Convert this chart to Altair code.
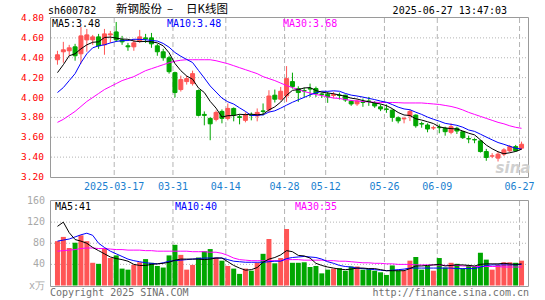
import altair as alt
import pandas as pd

# ---------------- data ----------------
dates = [
    "2025-03-03", "2025-03-04", "2025-03-05", "2025-03-06", "2025-03-07", "2025-03-10", "2025-03-11",
    "2025-03-12", "2025-03-13", "2025-03-14", "2025-03-17", "2025-03-18", "2025-03-19", "2025-03-20",
    "2025-03-21", "2025-03-24", "2025-03-25", "2025-03-26", "2025-03-27", "2025-03-28", "2025-03-31",
    "2025-04-01", "2025-04-02", "2025-04-03", "2025-04-07", "2025-04-08", "2025-04-09", "2025-04-10",
    "2025-04-11", "2025-04-14", "2025-04-15", "2025-04-16", "2025-04-17", "2025-04-18", "2025-04-21",
    "2025-04-22", "2025-04-23", "2025-04-24", "2025-04-25", "2025-04-28", "2025-04-29", "2025-04-30",
    "2025-05-06", "2025-05-07", "2025-05-08", "2025-05-09", "2025-05-12", "2025-05-13", "2025-05-14",
    "2025-05-15", "2025-05-16", "2025-05-19", "2025-05-20", "2025-05-21", "2025-05-22", "2025-05-23",
    "2025-05-26", "2025-05-27", "2025-05-28", "2025-05-29", "2025-05-30", "2025-06-03", "2025-06-04",
    "2025-06-05", "2025-06-06", "2025-06-09", "2025-06-10", "2025-06-11", "2025-06-12", "2025-06-13",
    "2025-06-16", "2025-06-17", "2025-06-18", "2025-06-19", "2025-06-20", "2025-06-23", "2025-06-24",
    "2025-06-25", "2025-06-26", "2025-06-27",
]

opens = [4.38, 4.46, 4.47, 4.51, 4.44, 4.58, 4.58, 4.61, 4.53, 4.63,
         4.66, 4.58, 4.52, 4.51, 4.57, 4.60, 4.60, 4.52, 4.46, 4.40,
         4.25, 4.08, 4.16, 4.14, 4.07, 3.83, 3.79, 3.78, 3.86, 3.79,
         3.89, 3.806, 3.77, 3.826, 3.815, 3.865, 3.875, 4.023, 3.983, 4.016,
         4.16, 4.09, 4.07, 4.09, 4.09, 4.036, 4.033, 4.02, 4.025, 4.023,
         3.963, 3.936, 3.953, 3.965, 3.94, 3.906, 3.885, 3.873, 3.796, 3.785,
         3.816, 3.823, 3.737, 3.723, 3.693, 3.70, 3.69, 3.65, 3.69, 3.656,
         3.586, 3.577, 3.563, 3.456, 3.41, 3.39, 3.43, 3.463, 3.506, 3.49]

highs = [4.47, 4.56, 4.53, 4.54, 4.71, 4.69, 4.63, 4.64, 4.69, 4.67,
         4.76, 4.62, 4.55, 4.59, 4.68, 4.64, 4.65, 4.54, 4.49, 4.42,
         4.26, 4.22, 4.22, 4.27, 4.08, 3.86, 3.80, 3.87, 3.88, 3.94,
         3.90, 3.83, 3.85, 3.85, 3.89, 3.94, 4.073, 4.08, 4.106, 4.316,
         4.25, 4.113, 4.10, 4.14, 4.11, 4.05, 4.056, 4.056, 4.05, 4.03,
         3.973, 3.98, 3.99, 4.006, 3.963, 3.93, 3.93, 3.88, 3.81, 3.806,
         3.88, 3.83, 3.756, 3.74, 3.716, 3.73, 3.706, 3.74, 3.706, 3.663,
         3.616, 3.59, 3.573, 3.483, 3.44, 3.456, 3.49, 3.523, 3.523, 3.556]

lows = [4.33, 4.35, 4.42, 4.37, 4.34, 4.46, 4.53, 4.49, 4.43, 4.55,
        4.56, 4.53, 4.47, 4.47, 4.55, 4.55, 4.50, 4.42, 4.37, 4.24,
        4.00, 4.06, 4.13, 4.12, 3.81, 3.72, 3.57, 3.76, 3.74, 3.77,
        3.76, 3.73, 3.75, 3.77, 3.76, 3.82, 3.85, 3.95, 3.97, 3.956,
        4.09, 3.956, 4.00, 4.006, 4.006, 3.996, 3.946, 3.99, 3.98, 3.956,
        3.916, 3.916, 3.906, 3.916, 3.896, 3.863, 3.846, 3.756, 3.74, 3.74,
        3.763, 3.696, 3.696, 3.65, 3.673, 3.64, 3.616, 3.63, 3.633, 3.583,
        3.54, 3.54, 3.446, 3.363, 3.39, 3.356, 3.41, 3.45, 3.456, 3.473]

closes = [4.43, 4.48, 4.50, 4.42, 4.62, 4.63, 4.61, 4.52, 4.64, 4.64,
          4.58, 4.56, 4.51, 4.55, 4.61, 4.59, 4.54, 4.46, 4.40, 4.26,
          4.05, 4.18, 4.19, 4.24, 3.82, 3.82, 3.735, 3.85, 3.79, 3.89,
          3.823, 3.80, 3.83, 3.82, 3.85, 3.86, 4.015, 3.983, 4.063, 4.19,
          4.11, 4.05, 4.065, 4.085, 4.04, 4.03, 4.005, 4.03, 4.02, 3.975,
          3.935, 3.965, 3.95, 3.96, 3.915, 3.885, 3.88, 3.80, 3.765, 3.79,
          3.86, 3.716, 3.733, 3.683, 3.696, 3.696, 3.656, 3.706, 3.663, 3.596,
          3.583, 3.573, 3.456, 3.396, 3.413, 3.43, 3.473, 3.506, 3.463, 3.53]

ma5 = [4.25, 4.33, 4.42, 4.44, 4.49, 4.53, 4.556, 4.56, 4.604, 4.608,
       4.598, 4.588, 4.586, 4.568, 4.562, 4.564, 4.56, 4.55, 4.52, 4.45,
       4.342, 4.27, 4.216, 4.184, 4.096, 4.05, 3.961, 3.893, 3.803, 3.817,
       3.818, 3.831, 3.827, 3.833, 3.825, 3.832, 3.875, 3.906, 3.954, 4.022,
       4.072, 4.079, 4.096, 4.10, 4.07, 4.054, 4.045, 4.038, 4.025, 4.012,
       3.993, 3.985, 3.969, 3.957, 3.945, 3.935, 3.918, 3.888, 3.849, 3.824,
       3.819, 3.786, 3.773, 3.756, 3.738, 3.705, 3.693, 3.687, 3.683, 3.663,
       3.641, 3.624, 3.574, 3.521, 3.484, 3.454, 3.434, 3.444, 3.457, 3.48]

ma10 = [4.05, 4.10, 4.17, 4.24, 4.35, 4.44, 4.50, 4.52, 4.53, 4.549,
        4.564, 4.572, 4.573, 4.586, 4.585, 4.581, 4.574, 4.568, 4.544, 4.506,
        4.453, 4.415, 4.383, 4.352, 4.273, 4.196, 4.116, 4.055, 3.994, 3.957,
        3.934, 3.896, 3.860, 3.818, 3.821, 3.825, 3.853, 3.866, 3.893, 3.923,
        3.952, 3.977, 4.001, 4.027, 4.046, 4.063, 4.062, 4.067, 4.063, 4.041,
        4.024, 4.015, 4.004, 3.991, 3.979, 3.964, 3.952, 3.929, 3.903, 3.885,
        3.877, 3.852, 3.830, 3.803, 3.781, 3.762, 3.740, 3.730, 3.720, 3.701,
        3.673, 3.659, 3.631, 3.602, 3.574, 3.547, 3.529, 3.509, 3.489, 3.482]

ma30 = [3.75, 3.78, 3.82, 3.86, 3.91, 3.96, 4.00, 4.04, 4.08, 4.11,
        4.14, 4.17, 4.19, 4.21, 4.24, 4.27, 4.29, 4.31, 4.33, 4.35,
        4.365, 4.375, 4.38, 4.38, 4.38, 4.38, 4.38, 4.37, 4.355, 4.34,
        4.32, 4.30, 4.28, 4.26, 4.24, 4.21, 4.19, 4.17, 4.145, 4.12,
        4.10, 4.08, 4.06, 4.045, 4.03, 4.02, 4.005, 3.995, 3.99, 3.98,
        3.97, 3.965, 3.96, 3.955, 3.953, 3.95, 3.95, 3.95, 3.948, 3.945,
        3.945, 3.945, 3.945, 3.94, 3.935, 3.93, 3.92, 3.91, 3.895, 3.875,
        3.85, 3.83, 3.81, 3.79, 3.77, 3.75, 3.735, 3.715, 3.70, 3.69]

volumes = [84, 92, 71, 81, 95, 84, 43, 41, 71, 52,
           57, 32, 30, 39, 44, 50, 43, 37, 34, 57,
           77, 58, 30, 39, 53, 65, 69, 53, 47, 37,
           32, 22, 32, 28, 43, 60, 88, 42, 52, 107,
           43, 43, 44, 35, 37, 23, 30, 32, 33, 28,
           36, 36, 30, 31, 28, 25, 20, 38, 28, 28,
           47, 54, 30, 37, 28, 52, 34, 43, 41, 32,
           39, 35, 62, 49, 30, 39, 44, 44, 43, 47]

vol_ma5 = [112, 120, 100, 87, 84, 80, 72, 66, 60, 54,
           51, 49, 46, 40, 38, 38, 40, 41, 42, 44,
           48, 50, 50, 50, 50, 49, 50, 52, 52, 45,
           38, 33, 29, 30, 34, 44, 50, 53, 58, 66,
           64, 57, 56, 52, 42, 38, 35, 33, 31, 30,
           31, 33, 33, 32, 32, 30, 28, 28, 28, 28,
           32, 37, 37, 38, 39, 40, 37, 38, 39, 39,
           38, 37, 40, 41, 41, 41, 42, 41, 40, 41]

vol_ma10 = [84, 86, 88, 92, 96, 99, 95, 80, 72, 65,
            60, 55, 50, 47, 45, 43, 42, 41, 43, 46,
            47, 48, 49, 50, 51, 52, 52, 52, 52, 49,
            46, 45, 44, 44, 44, 44, 45, 46, 46, 51,
            53, 54, 55, 54, 53, 50, 45, 42, 38, 36,
            35, 33, 32, 31, 30, 29, 28, 29, 30, 31,
            33, 33, 33, 33, 33, 33, 33, 33, 32, 32,
            32, 32, 35, 38, 39, 39, 39, 39, 39, 40]

vol_ma30 = [65, 66, 67, 68, 70, 71, 71, 70, 70, 69,
            68, 68, 67, 67, 67, 66, 66, 65, 65, 65,
            65, 65, 65, 64, 64, 64, 63, 63, 61, 57,
            52, 49, 48, 47, 47, 47, 47, 47, 47, 49,
            49, 49, 48, 48, 48, 48, 47, 47, 46, 46,
            45, 44, 43, 43, 42, 42, 41, 41, 40, 40,
            40, 39, 39, 39, 39, 39, 38, 38, 38, 37,
            37, 36, 36, 36, 36, 36, 35, 35, 35, 35]

price_ticks = [4.80, 4.60, 4.40, 4.20, 4.00, 3.80, 3.60, 3.40, 3.20]
price_tick_labels = ["4.80", "4.60", "4.40", "4.20", "4.00", "3.80", "3.60", "3.40", "3.20"]
vol_ticks = [160, 120, 80, 40, 0]
vol_tick_labels = ["160", "120", "80", "40", "x万"]
date_ticks = ["2025-03-17", "2025-03-31", "2025-04-14", "2025-04-28",
              "2025-05-12", "2025-05-26", "2025-06-09", "2025-06-27"]
date_tick_labels = ["2025-03-17", "03-31", "04-14", "04-28", "05-12", "05-26", "06-09", "06-27"]

# ---------------- style ----------------
RED = "#ff5555"
GREEN = "#00a600"
GRID = "#b4b4b4"
FRAME = "#9a9a9a"
MONO = "DejaVu Sans Mono"
CJK = "Noto Sans CJK SC"
W, H = 478, 268
P_BOTTOM = 159
V_TOP, V_BOTTOM = 183, 267.5

df = pd.DataFrame({
    "idx": list(range(len(dates))), "date": dates,
    "open": opens, "high": highs, "low": lows, "close": closes,
    "ma5": ma5, "ma10": ma10, "ma30": ma30,
    "vol": volumes, "vma5": vol_ma5, "vma10": vol_ma10, "vma30": vol_ma30,
})

xs = alt.Scale(domain=[-0.25, 79.42], nice=False, zero=False)
ps = alt.Scale(domain=[3.2, 4.8], range=[P_BOTTOM, 0], nice=False, zero=False)
vs = alt.Scale(domain=[0, 160], range=[V_BOTTOM, V_TOP], nice=False, zero=True)
X = alt.X("idx:Q", scale=xs, axis=None)

up = "datum.close >= datum.open"
col = alt.condition(up, alt.value(RED), alt.value(GREEN))

base = alt.Chart(df)

# --- price panel ---
pgrid_df = pd.DataFrame({"v": price_ticks[1:-1]})
p_grid = alt.Chart(pgrid_df).mark_rule(color=GRID, strokeDash=[1, 2], strokeWidth=1).encode(
    y=alt.Y("v:Q", scale=ps, axis=None), x=alt.value(0), x2=alt.value(W))

ptick_df = pd.DataFrame({"v": price_ticks, "label": price_tick_labels})
p_labels = alt.Chart(ptick_df).mark_text(
    align="right", baseline="middle", font=MONO, fontSize=9.5, color="#ff0000"
).encode(y=alt.Y("v:Q", scale=ps, axis=None), text="label:N", x=alt.value(-7))

wicks = base.mark_rule(strokeWidth=1).encode(
    x=X, y=alt.Y("low:Q", scale=ps, axis=None), y2="high:Q", color=col)
bodies = base.mark_bar(size=4, strokeWidth=1).encode(
    x=X, y=alt.Y("open:Q", scale=ps, axis=None), y2="close:Q", color=col, stroke=col)

def line(field, color, scale):
    return base.mark_line(strokeWidth=1, color=color, interpolate="linear").encode(
        x=X, y=alt.Y(f"{field}:Q", scale=scale, axis=None))

price_layer = alt.layer(
    p_grid, p_labels, wicks, bodies,
    line("ma30", "#ff00ff", ps), line("ma10", "#0000ff", ps), line("ma5", "#000000", ps),
)

# --- volume panel ---
vgrid_df = pd.DataFrame({"v": vol_ticks[1:-1]})
v_grid = alt.Chart(vgrid_df).mark_rule(color=GRID, strokeDash=[1, 2], strokeWidth=1).encode(
    y=alt.Y("v:Q", scale=vs, axis=None), x=alt.value(0), x2=alt.value(W))
vtick_df = pd.DataFrame({"v": vol_ticks, "label": vol_tick_labels})
v_labels = alt.Chart(vtick_df).mark_text(
    align="right", baseline="middle", font=MONO, fontSize=10, color="#a8a8a8"
).encode(y=alt.Y("v:Q", scale=vs, axis=None), text="label:N", x=alt.value(-6))
vbars = base.mark_bar(size=5).encode(
    x=X, y=alt.Y("vol:Q", scale=vs, axis=None), color=col)

vol_layer = alt.layer(
    v_grid, v_labels, vbars,
    line("vma30", "#ff00ff", vs), line("vma10", "#0000ff", vs), line("vma5", "#000000", vs),
)

# --- date grid lines & labels ---
date_df = pd.DataFrame({"date": date_ticks, "label": date_tick_labels,
                        "idx": [dates.index(d) for d in date_ticks]})
dchart = alt.Chart(date_df)
d_lines_top = dchart.mark_rule(color=GRID, strokeDash=[5, 3], strokeWidth=1, xOffset=-2).encode(
    x=X, y=alt.value(0), y2=alt.value(P_BOTTOM))
d_lines_bot = dchart.mark_rule(color=GRID, strokeDash=[5, 3], strokeWidth=1, xOffset=-2).encode(
    x=X, y=alt.value(V_TOP), y2=alt.value(H))
d_labels = dchart.mark_text(font=MONO, fontSize=10, color="#1a7fd0", baseline="middle",
                            xOffset=-2).encode(x=X, y=alt.value(168.5), text="label:N")

# --- frames and texts ---
one = pd.DataFrame({"a": [0]})
ochart = alt.Chart(one)
frame_top = ochart.mark_rect(fillOpacity=0, stroke=FRAME, strokeWidth=1).encode(
    x=alt.value(-0.5), x2=alt.value(W - 0.5), y=alt.value(-0.5), y2=alt.value(P_BOTTOM + 0.5))
frame_bot = ochart.mark_rect(fillOpacity=0, stroke=FRAME, strokeWidth=1).encode(
    x=alt.value(-0.5), x2=alt.value(W - 0.5), y=alt.value(V_TOP - 0.5), y2=alt.value(H + 0.5))

def txt(s, x, y, color="#000000", align="left", size=9.5, font=MONO, **kw):
    return ochart.mark_text(text=s, align=align, baseline="middle", font=font,
                            fontSize=size, color=color, **kw).encode(
        x=alt.value(x), y=alt.value(y))

texts = [
    txt("sh600782", -3, -7.5, size=10),
    txt("新钢股份", 65, -8.5, size=11.5, font=CJK),
    txt("–", 119, -8.5, size=11.5, font=CJK, align="center"),
    txt("日K线图", 135, -8.5, size=11.5, font=CJK),
    txt("2025-06-27 13:47:03", 456, -7.5, align="right", size=10),
    txt("MA5:3.48", 1, 5.5, size=10),
    txt("MA10:3.48", 116, 5.5, color="#0000ff", size=10),
    txt("MA30:3.68", 232, 5.5, color="#ff00ff", size=10),
    txt("MA5:41", 4, 188.5, size=10),
    txt("MA10:40", 124, 188.5, color="#0000ff", size=10),
    txt("MA30:35", 244, 188.5, color="#ff00ff", size=10),
    txt("Copyright 2025 SINA.COM", -1, 275, color="#707070", size=10),
    txt("http://finance.sina.com.cn", W, 275, color="#707070", align="right", size=10),
    txt("sina", 462, 150, color="#d0d0d0", size=15, font="DejaVu Sans", fontStyle="italic",
        fontWeight="bold", align="center"),
]

chart = alt.layer(
    d_lines_top, d_lines_bot, price_layer, vol_layer, d_labels, frame_top, frame_bot, *texts
).resolve_scale(y="independent").properties(
    width=W, height=H,
    padding={"left": 51, "top": 18, "right": 16, "bottom": 14},
    autosize=alt.AutoSizeParams(type="none"),
    background="white",
).configure_view(stroke=None)

chart.save("out.html", embed_options={"renderer": "svg", "actions": False})
